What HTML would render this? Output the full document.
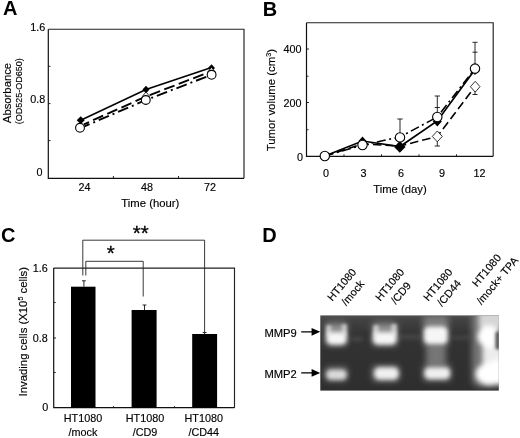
<!DOCTYPE html>
<html>
<head>
<meta charset="utf-8">
<title>Figure</title>
<style>
html,body{margin:0;padding:0;background:#fff;}
body{width:520px;height:438px;overflow:hidden;}
svg{display:block;}
text{font-family:"Liberation Sans",Arial,Helvetica,sans-serif;fill:#000;stroke:#000;stroke-width:0.15px;}
.pl{font-weight:bold;font-size:20px;fill:#000;stroke:none;}
.t{font-size:10.800px;}
.ax{font-size:11.300px;}
.sm{font-size:9px;}
.t2{font-size:10.800px;}
.star{font-size:20.500px;fill:#000;stroke:#000;stroke-width:0.3px;}
</style>
</head>
<body>
<svg width="520" height="438" viewBox="0 0 520 438">
<defs>
<filter id="b1" x="-50%" y="-50%" width="200%" height="200%"><feGaussianBlur stdDeviation="1.6"/></filter>
<filter id="b2" x="-50%" y="-50%" width="200%" height="200%"><feGaussianBlur stdDeviation="3"/></filter>
<filter id="b3" x="-50%" y="-50%" width="200%" height="200%"><feGaussianBlur stdDeviation="1.4"/></filter>
<clipPath id="gelclip"><rect x="320.300" y="315.400" width="178.500" height="75.200"/></clipPath>
<filter id="b5" x="-50%" y="-50%" width="200%" height="200%"><feGaussianBlur stdDeviation="1.9"/></filter>
<filter id="b4" x="-50%" y="-50%" width="200%" height="200%"><feGaussianBlur stdDeviation="2.6"/></filter>
<linearGradient id="gelbg" x1="0" y1="0" x2="0" y2="1"><stop offset="0" stop-color="#505050"/><stop offset="0.06" stop-color="#424242"/><stop offset="0.25" stop-color="#333"/><stop offset="1" stop-color="#2e2e2e"/></linearGradient>
</defs>
<rect width="520" height="438" fill="#fff"/>

<!-- ================= Panel A ================= -->
<g id="panelA">
<text class="pl" x="3" y="14.700">A</text>
<!-- frame -->
<path d="M48.3 29.2 H244 V178.300" fill="none" stroke="#222" stroke-width="1.150"/>
<path d="M48.3 29.2 V178.300 H244" fill="none" stroke="#111" stroke-width="1.2"/>
<!-- ticks -->
<path d="M48.5 66.3h2 M48.5 103.600h2 M48.5 140.6h2 M113.400 178.300v-2.300 M178.500 178.300v-2.300" stroke="#111" stroke-width="0.9" fill="none"/>
<text class="t" x="45.200" y="31" text-anchor="end">1.6</text>
<text class="t" x="45.200" y="103.400" text-anchor="end">0.8</text>
<text class="t" x="42.500" y="176.200" text-anchor="end">0</text>
<text class="t" x="84.600" y="190.500" text-anchor="middle">24</text>
<text class="t" x="147" y="190.500" text-anchor="middle">48</text>
<text class="t" x="209.900" y="190.500" text-anchor="middle">72</text>
<text class="ax" x="150.300" y="206.500" text-anchor="middle">Time (hour)</text>
<text class="ax" transform="translate(10.600 93) rotate(-90)" text-anchor="middle">Absorbance</text>
<text class="sm" transform="translate(22 91.300) rotate(-90)" text-anchor="middle">(OD525-OD650)</text>
<!-- lines -->
<path d="M80.700 120.200 L146 89.500 L211.500 67.500" fill="none" stroke="#000" stroke-width="1.500"/>
<path d="M84 124.300 L146 96.500 L211.500 71.300" fill="none" stroke="#000" stroke-width="1.900" stroke-dasharray="11 4.500" stroke-dashoffset="5.500"/>
<path d="M84.500 126.300 L146 100 L211.500 74.800" fill="none" stroke="#000" stroke-width="1.900" stroke-dasharray="11 4 2 4" stroke-dashoffset="5.500"/>
<!-- markers -->
<path d="M80.700 116.200 l4 4 l-4 4 l-4 -4z M146 85.800 l3.500 3.800 l-3.500 3.800 l-3.500 -3.800z M211.500 64.200 l3.500 3.800 l-3.500 3.800 l-3.500 -3.800z" fill="#000"/>
<path d="M146 92 l3.600 4.200 l-3.600 4.200 l-3.600 -4.200z M211.500 67.500 l3.600 4.200 l-3.600 4.200 l-3.600 -4.200z" fill="#fff" stroke="#000" stroke-width="0.8"/>
<circle cx="80" cy="127.800" r="4.400" fill="#fff" stroke="#000" stroke-width="1.100"/>
<circle cx="145.800" cy="100" r="4.400" fill="#fff" stroke="#000" stroke-width="1.100"/>
<circle cx="211.600" cy="74.800" r="4.400" fill="#fff" stroke="#000" stroke-width="1.100"/>
</g>

<!-- ================= Panel B ================= -->
<g id="panelB">
<text class="pl" x="262.700" y="16.100">B</text>
<path d="M306.500 22.700 H493.200 V156.300" fill="none" stroke="#222" stroke-width="1.150"/>
<path d="M306.500 22.700 V156.300 H493.200" fill="none" stroke="#111" stroke-width="1.200"/>
<path d="M306.500 49h2.500 M306.500 76.200h2 M306.500 102.500h2.500 M306.500 129.700h2 M344 156.300v-2 M381.500 156.300v-2 M419 156.300v-2 M456.500 156.300v-2" stroke="#111" stroke-width="0.9" fill="none"/>
<text class="t" x="301.500" y="52.600" text-anchor="end">400</text>
<text class="t" x="301.500" y="106.700" text-anchor="end">200</text>
<text class="t" x="302.900" y="160.800" text-anchor="end">0</text>
<text class="t" x="326" y="176.500" text-anchor="middle">0</text>
<text class="t" x="363.500" y="176.500" text-anchor="middle">3</text>
<text class="t" x="401" y="176.500" text-anchor="middle">6</text>
<text class="t" x="442" y="176.500" text-anchor="middle">9</text>
<text class="t" x="479.500" y="176.500" text-anchor="middle">12</text>
<text class="ax" x="400" y="192.500" text-anchor="middle">Time (day)</text>
<text transform="translate(274.800 100.100) rotate(-90)" text-anchor="middle" style="font-size:11.400px">Tumor volume (cm<tspan font-size="7.200" dy="-4">3</tspan><tspan dy="4">)</tspan></text>
<!-- error bars -->
<path d="M475 68 V42.300 M472.500 42.300h5 M472.500 52.200h5 M475 86 V94.500 M472.500 94.500h5 M437.300 117 V96 M434.700 96h5.200 M434.700 107.500h5.200 M437.300 136 V146 M434.700 146h5.200 M400 137 V119 M397.300 119h5.400" stroke="#111" stroke-width="0.9" fill="none"/>
<!-- lines -->
<path d="M324.800 156 L362.500 141 L400 146.500 L437.300 121 L475 69.500" fill="none" stroke="#000" stroke-width="1.700"/>
<path d="M324.800 156 L362.500 144 L400 146 L437.300 136.400 L475 86.700" fill="none" stroke="#000" stroke-width="1.600" stroke-dasharray="8.500 4"/>
<path d="M324.800 156 L362.500 145 L400 137 L437.300 117 L475 68.500" fill="none" stroke="#000" stroke-width="1.600" stroke-dasharray="9 3.500 2 3.500"/>
<!-- markers -->
<path d="M362.500 136.400 l4 4.500 l-4 4.500 l-4 -4.500z M399.800 141 l5.700 5.900 l-5.700 5.900 l-5.700 -5.900z M437.300 116.500 l4.500 5 l-4.500 5 l-4.500 -5z M475 65 l4.500 5 l-4.500 5 l-4.500 -5z" fill="#000"/>
<path d="M437.300 131 l5 5.400 l-5 5.400 l-5 -5.400z M475.200 81.300 l4.800 5.400 l-4.800 5.400 l-4.800 -5.400z" fill="#fff" stroke="#000" stroke-width="0.8"/>
<circle cx="324.800" cy="156" r="4.700" fill="#fff" stroke="#000" stroke-width="1.100"/>
<circle cx="362.500" cy="145" r="4.700" fill="#fff" stroke="#000" stroke-width="1.100"/>
<circle cx="400" cy="137.400" r="4.700" fill="#fff" stroke="#000" stroke-width="1.100"/>
<circle cx="437.300" cy="117" r="4.700" fill="#fff" stroke="#000" stroke-width="1.100"/>
<circle cx="475" cy="68.600" r="4.700" fill="#fff" stroke="#000" stroke-width="1.100"/>
</g>

<!-- ================= Panel C ================= -->
<g id="panelC">
<text class="pl" x="1.100" y="242.300">C</text>
<path d="M53.700 268.100 H234.500 V407.700" fill="none" stroke="#222" stroke-width="1.150"/>
<path d="M53.700 268.100 V407.700 H234.500" fill="none" stroke="#111" stroke-width="1.200"/>
<path d="M53.700 302.500h2 M53.700 338h2.300 M53.700 372.500h2 M113.500 407.700v-1.500 M174.500 407.700v-1.500" stroke="#111" stroke-width="0.9" fill="none"/>
<text class="t" x="47.800" y="271.700" text-anchor="end">1.6</text>
<text class="t" x="47.800" y="341.700" text-anchor="end">0.8</text>
<text class="t" x="48.300" y="410.900" text-anchor="end">0</text>
<text transform="translate(26.900 331.700) rotate(-90)" text-anchor="middle" style="font-size:11.350px">Invading cells (X10<tspan font-size="7.200" dy="-4">5</tspan><tspan dy="4"> cells)</tspan></text>
<!-- bars -->
<rect x="71" y="286.700" width="24.500" height="121" fill="#000"/>
<rect x="131.600" y="310" width="25" height="97.700" fill="#000"/>
<rect x="192.200" y="334" width="24.900" height="73.700" fill="#000"/>
<path d="M83.900 286.700V280.800 M82 280.800h3.800 M144.500 310V305 M142.600 305h3.800 M204.600 334V332.500 M202.700 332.500h3.800" stroke="#111" stroke-width="0.9" fill="none"/>
<!-- brackets -->
<path d="M82.800 275.500 V240.200 H204.600 V332" fill="none" stroke="#222" stroke-width="0.9"/>
<path d="M85.800 275.500 V261.300 H143.200 V296.500" fill="none" stroke="#222" stroke-width="0.9"/>
<text class="star" x="110.700" y="260.400" text-anchor="middle">*</text>
<text class="star" x="140.800" y="239.500" text-anchor="middle">**</text>
<text class="t2" x="83" y="422.300" text-anchor="middle">HT1080</text>
<text class="t2" x="83" y="435.700" text-anchor="middle">/mock</text>
<text class="t2" x="145" y="422.300" text-anchor="middle">HT1080</text>
<text class="t2" x="145" y="435.700" text-anchor="middle">/CD9</text>
<text class="t2" x="203.700" y="422.300" text-anchor="middle">HT1080</text>
<text class="t2" x="203.700" y="435.700" text-anchor="middle">/CD44</text>
</g>

<!-- ================= Panel D ================= -->
<g id="panelD">
<text class="pl" x="262.300" y="242.200">D</text>
<rect x="320.300" y="315.400" width="178.500" height="75.200" fill="url(#gelbg)"/>
<g clip-path="url(#gelclip)">
<!-- halos -->
<g filter="url(#b2)" fill="#bbb" opacity="0.5">
<rect x="325" y="322" width="22.500" height="24" rx="4"/>
<rect x="372" y="322" width="25.500" height="24" rx="4"/>
<rect x="423" y="316" width="25.500" height="30" rx="4"/>
<rect x="325" y="367" width="22.500" height="14" rx="4"/>
<rect x="372" y="365.500" width="27.500" height="16" rx="4"/>
<rect x="423" y="365" width="28" height="16" rx="4"/>
<rect x="426" y="338" width="20" height="32"/>
<rect x="472" y="312" width="34" height="75" rx="8"/>
</g>
<!-- faint smears -->
<g filter="url(#b5)" fill="#888" opacity="0.28">
<rect x="352" y="337" width="11" height="4"/>
<rect x="400" y="335" width="20" height="4"/>
<rect x="452" y="336" width="18" height="3"/>
</g>
<g filter="url(#b1)" fill="#9a9a9a" opacity="0.6">
<rect x="330" y="326" width="13" height="8"/>
<rect x="377" y="326" width="16" height="8"/>
</g>
<!-- ears -->
<g filter="url(#b1)" fill="#d0d0d0" opacity="0.85">
<rect x="326" y="325" width="5.500" height="11" rx="2"/>
<rect x="341.500" y="324" width="5.500" height="12" rx="2"/>
<rect x="373" y="325" width="6" height="11" rx="2"/>
<rect x="391" y="324" width="6" height="12" rx="2"/>
</g>
<!-- cores -->
<g filter="url(#b5)" fill="#f6f6f6">
<rect x="326.500" y="332" width="20" height="12.500" rx="5"/>
<rect x="373" y="332" width="23.500" height="12.500" rx="5"/>
<rect x="424" y="326.500" width="23.500" height="17.500" rx="5"/>
</g>
<g filter="url(#b5)" fill="#f0f0f0">
<rect x="374.500" y="367.500" width="24" height="12" rx="5"/>
<rect x="424.500" y="367.500" width="25.500" height="11.500" rx="5"/>
</g>
<g filter="url(#b5)" fill="#dcdcdc">
<rect x="326.500" y="370" width="20" height="9.500" rx="4.500"/>
</g>
<!-- lane 4 -->
<g filter="url(#b4)">
<rect x="479" y="312" width="26" height="16" fill="#d6d6d6"/>
<rect x="482.500" y="342" width="24" height="22" fill="#ececec"/>
<ellipse cx="489" cy="336.500" rx="11.500" ry="11" fill="#fff"/>
<ellipse cx="489.500" cy="374" rx="13.800" ry="11" fill="#fff"/>
<rect x="492" y="360" width="12" height="24" fill="#fff"/>
</g>
<g filter="url(#b1)">
<rect x="495.300" y="331.500" width="6" height="18" rx="2" fill="#4a4a4a" opacity="0.9"/>
</g>
</g>
<!-- labels -->
<text x="264.400" y="336.700" style="font-size:11.200px">MMP9</text>
<text x="264.400" y="377.800" style="font-size:11.200px">MMP2</text>
<path d="M301.200 331.800h11 M301.200 372.900h11" stroke="#000" stroke-width="1.300" fill="none"/>
<path d="M320.200 331.800l-8.600 -3.900v7.800z M320.200 372.900l-8.600 -3.900v7.800z" fill="#000"/>
<g class="t2" text-anchor="middle">
<text transform="translate(344.500 287) rotate(-50)"><tspan x="0" y="0">HT1080</tspan><tspan x="0.800" y="13.800">/mock</tspan></text>
<text transform="translate(392.600 287) rotate(-50)"><tspan x="0" y="0">HT1080</tspan><tspan x="0.800" y="13.800">/CD9</tspan></text>
<text transform="translate(440.700 287) rotate(-50)"><tspan x="0" y="0">HT1080</tspan><tspan x="0.800" y="13.800">/CD44</tspan></text>
<text transform="translate(489.400 272.700) rotate(-50)"><tspan x="0" y="0">HT1080</tspan><tspan x="-1" y="14.800">/mock+ TPA</tspan></text>
</g>
</g>
</svg>
</body>
</html>
